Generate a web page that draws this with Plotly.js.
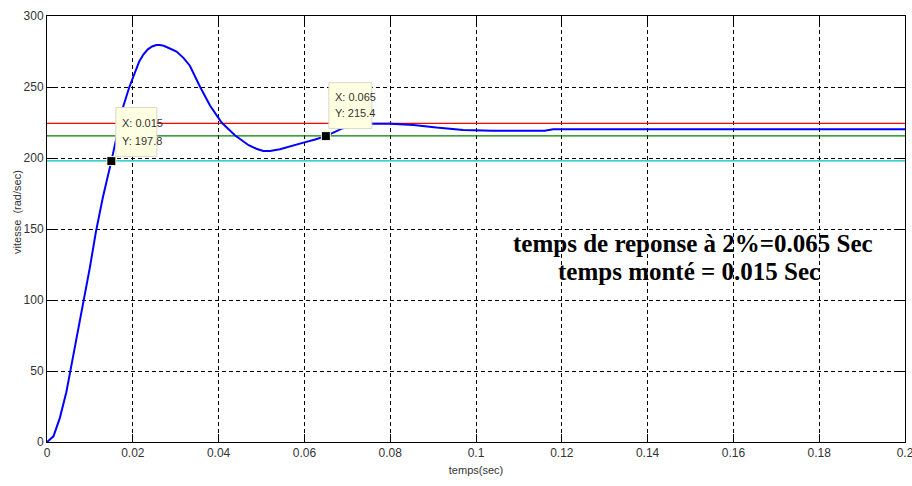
<!DOCTYPE html>
<html>
<head>
<meta charset="utf-8">
<script src="https://cdn.plot.ly/plotly-3.0.1.min.js"></script>
<style>html,body{margin:0;padding:0;background:#fff;}#chart{width:912px;height:486px;}</style>
</head>
<body>
<div id="chart"></div>
<script>
// Speed response (time in s, speed in rad/s)
const temps = [0, 0.0015, 0.003, 0.0045, 0.0055, 0.007, 0.0086, 0.0100, 0.0114, 0.013, 0.015, 0.0165, 0.0178, 0.0192, 0.0205, 0.0215, 0.0225, 0.0235, 0.0245, 0.0255, 0.0263, 0.0272, 0.028, 0.029, 0.0302, 0.0318, 0.0333, 0.0357, 0.038, 0.0407, 0.0438, 0.047, 0.0488, 0.0504, 0.052, 0.0543, 0.0566, 0.0598, 0.0625, 0.065, 0.069, 0.0725, 0.0753, 0.08, 0.0854, 0.0908, 0.097, 0.104, 0.116, 0.118, 0.14, 0.17, 0.2];
const vitesse = [0, 4, 17, 35, 51, 75, 100, 123, 148, 172, 197.8, 219, 236.7, 250, 261, 268, 273, 276.5, 278.5, 279.5, 279.5, 279, 278, 276.8, 275, 270.5, 265, 250, 237, 225, 216, 209, 206.5, 205, 205, 206.2, 208.3, 210.8, 213, 215.4, 221, 223.5, 224.2, 224.2, 223.3, 221.4, 219.8, 219.2, 219.2, 220.2, 220.2, 220.2, 220.2];
// Reference lines
const refX = [0, 0.2];
const ligneHaute = [224.4, 224.4];   // +2%
const ligneBasse = [215.6, 215.6];   // -2%
const ligne90 = [198, 198];          // 90%
// Axis ticks
const xTickVals = [0, 0.02, 0.04, 0.06, 0.08, 0.1, 0.12, 0.14, 0.16, 0.18, 0.2];
const xTickText = ["0", "0.02", "0.04", "0.06", "0.08", "0.1", "0.12", "0.14", "0.16", "0.18", "0.2"];
const yTickVals = [0, 50, 100, 150, 200, 250, 300];
const yTickText = ["0", "50", "100", "150", "200", "250", "300"];
// Data tips
const tipX = [0.015, 0.065];
const tipY = [197.8, 215.4];
const tipLabelsX = ["X: 0.015", "X: 0.065"];
const tipLabelsY = ["Y: 197.8", "Y: 215.4"];
const noteLines = ["temps de reponse à 2%=0.065 Sec", "temps monté = 0.015 Sec"];
const xTitle = "temps(sec)";
const yTitle = "vitesse  (rad/sec)";

const traces = [
  {x: refX, y: ligneHaute, mode: 'lines', line: {color: '#ff0000', width: 1.2}, hoverinfo: 'skip'},
  {x: refX, y: ligneBasse, mode: 'lines', line: {color: '#008000', width: 1.2}, hoverinfo: 'skip'},
  {x: refX, y: ligne90, mode: 'lines', line: {color: '#00bfbf', width: 1.2}, hoverinfo: 'skip'},
  {x: temps, y: vitesse, mode: 'lines', line: {color: '#0000ff', width: 2}, hoverinfo: 'skip'},
];

const narrow = 'Liberation Sans Narrow, Arial Narrow, Liberation Sans, sans-serif';
const tickFont = {family: narrow, size: 12, color: '#333333'};

const shapes = [];
const annotations = [];
const boxGeom = [
  {x0: 4.5, x1: 45.5, y0: 4.5, y1: 53.5, tx: 8.5, ty1: 38.5, ty2: 20.5},
  {x0: 3, x1: 46, y0: 7.5, y1: 53.5, tx: 7, ty1: 39.5, ty2: 23.5}
];
for (let i = 0; i < tipX.length; i++) {
  const g = boxGeom[i];
  shapes.push({type: 'rect', xref: 'x', yref: 'y', xsizemode: 'pixel', ysizemode: 'pixel',
    xanchor: tipX[i], yanchor: tipY[i], x0: g.x0, x1: g.x1, y0: g.y0, y1: g.y1,
    fillcolor: '#ffffe1', line: {color: '#d8d8c8', width: 1}, layer: 'above'});
  annotations.push({x: tipX[i], y: tipY[i], xref: 'x', yref: 'y', text: tipLabelsX[i], showarrow: false,
    xanchor: 'left', yanchor: 'middle', xshift: g.tx, yshift: g.ty1,
    font: {family: narrow, size: 11, color: '#333333'}});
  annotations.push({x: tipX[i], y: tipY[i], xref: 'x', yref: 'y', text: tipLabelsY[i], showarrow: false,
    xanchor: 'left', yanchor: 'middle', xshift: g.tx, yshift: g.ty2,
    font: {family: narrow, size: 11, color: '#333333'}});
}
const notePos = [{x: 0.7529, y: 0.4648}, {x: 0.7483, y: 0.4014}];
for (let i = 0; i < noteLines.length; i++) {
  annotations.push({xref: 'paper', yref: 'paper', x: notePos[i].x, y: notePos[i].y, text: '<b>' + noteLines[i] + '</b>',
    showarrow: false, xanchor: 'center', yanchor: 'middle',
    font: {family: 'Liberation Serif, Times New Roman, serif', size: 25, color: '#000000'}});
}
annotations.push({xref: 'paper', yref: 'paper', x: -0.035, y: 0.54, text: yTitle, showarrow: false,
  textangle: -90, xanchor: 'center', yanchor: 'middle',
  font: {family: 'Liberation Sans, Arial, sans-serif', size: 11, color: '#333333'}});

traces.push({x: tipX, y: tipY, mode: 'markers', hoverinfo: 'skip',
  marker: {symbol: 'square', size: 9, color: '#000000', line: {color: '#ffffe1', width: 1}}});

const layout = {
  width: 912, height: 486,
  margin: {l: 47, r: 7, t: 16, b: 44},
  paper_bgcolor: '#ffffff', plot_bgcolor: '#ffffff',
  showlegend: false,
  xaxis: {range: [0, 0.2], tickmode: 'array', tickvals: xTickVals, ticktext: xTickText,
    ticklabeloverflow: 'allow',
    showgrid: true, gridcolor: '#000000', griddash: '4px,3px', gridwidth: 1,
    zeroline: false, showline: true, linecolor: '#000000', linewidth: 1, mirror: 'ticks',
    ticks: 'inside', ticklen: 8, tickcolor: '#000000', tickfont: tickFont,
    title: {text: xTitle, font: {family: narrow, size: 11, color: '#333333'}, standoff: 6}},
  yaxis: {range: [0, 300], tickmode: 'array', tickvals: yTickVals, ticktext: yTickText,
    showgrid: true, gridcolor: '#000000', griddash: '4px,3px', gridwidth: 1,
    zeroline: false, showline: true, linecolor: '#000000', linewidth: 1, mirror: 'ticks',
    ticks: 'inside', ticklen: 8, tickcolor: '#000000', tickfont: tickFont},
  shapes: shapes,
  annotations: annotations
};

Plotly.newPlot('chart', traces, layout, {displayModeBar: false, staticPlot: true});
</script>
</body>
</html>
